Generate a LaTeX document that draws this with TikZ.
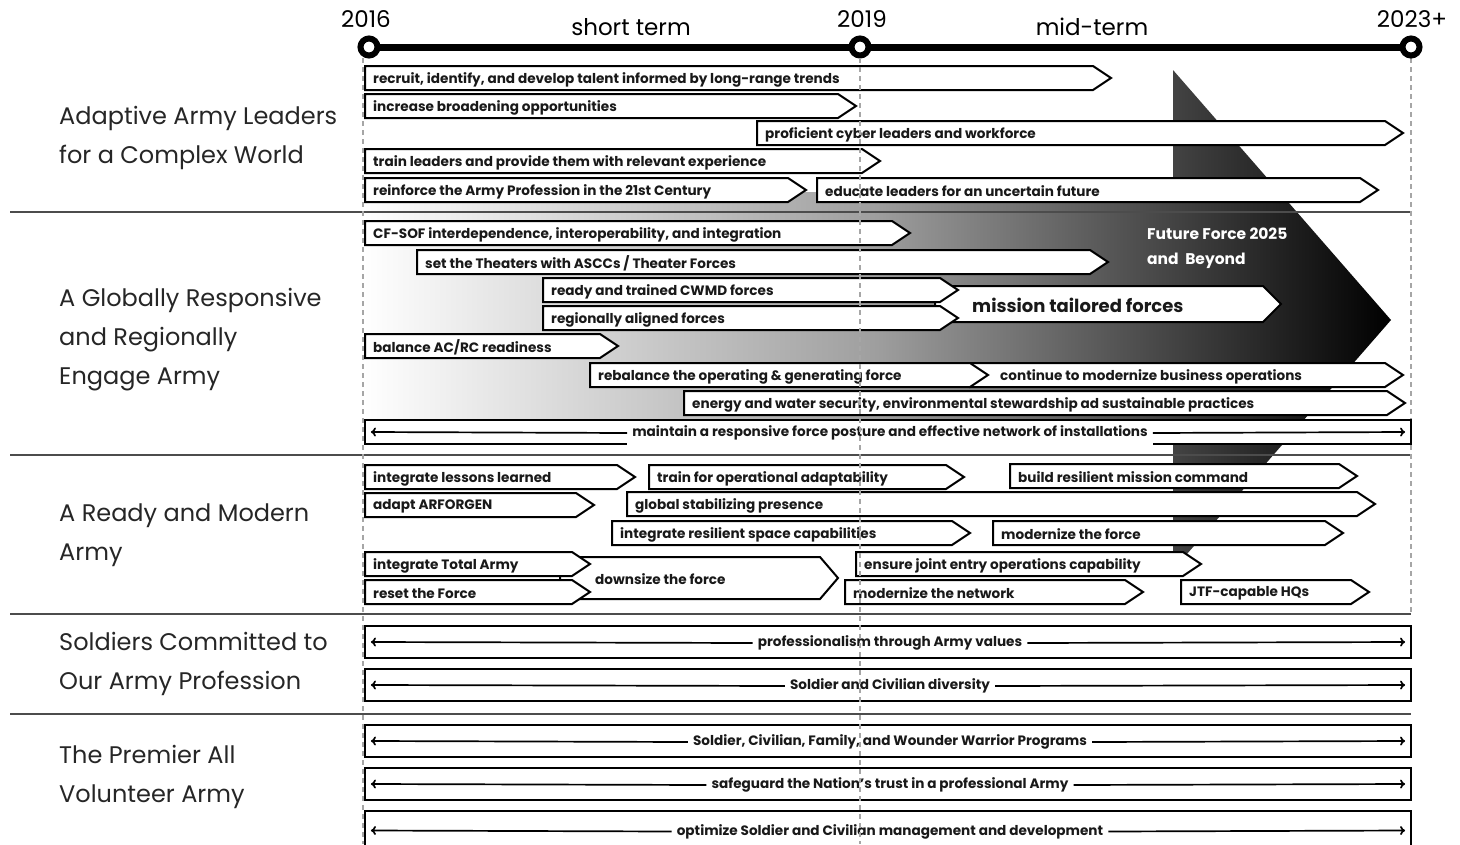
\documentclass[tikz,border=0pt]{standalone}
\usepackage{fontspec}
\setmainfont{Poppins}
\usetikzlibrary{arrows.meta,calc}
\tikzset{
  chev/.style={draw=black, fill=white, line width=2pt, line join=miter},
  lbl/.style={anchor=west, inner sep=0pt, font=\bfseries\fontsize{13.6}{15}\selectfont, text=black!90},
  wide/.style={draw=black, fill=white, line width=2.2pt, minimum width=1046pt, inner sep=0pt},
  wlbl/.style={fill=white, inner sep=5pt, font=\bfseries\fontsize{13.6}{15}\selectfont, text=black!90},
  dblarr/.style={line width=1.7pt, -{To[length=5pt,width=9pt,line width=1.7pt]}},
  sep/.style={draw=black!70, line width=2.5pt},
  vdash/.style={draw=black!35, line width=1.3pt, dash pattern=on 5pt off 4pt},
  rowlbl/.style={anchor=west, align=left, inner sep=0pt, font=\fontsize{24}{39}\selectfont, text=black!85},
  yr/.style={font=\fontsize{23}{26}\selectfont, inner sep=0pt},
  tdot/.style={circle, draw=black, fill=white, line width=6pt, minimum size=17pt, inner sep=0pt},
}
\newcommand{\chvx}[7]{% hh, name, left, tip, y, textx, text
  \draw[chev] (#3,#5-#1) -- (#4-18,#5-#1) -- (#4,#5) -- (#4-18,#5+#1) -- (#3,#5+#1) -- cycle;
  \node[lbl] (#2) at (#6,#5+1.5) {#7};}
\newcommand{\chv}[5]{\chvx{12}{#1}{#2}{#3}{#4}{#2+8}{#5}}
\newcommand{\wbox}[4]{% name, top, bottom, text
  \node[wide, minimum height={#3-#2}] (#1) at (888,{(#2+#3)/2}) {};
  \node[wlbl] (#1t) at (890,{(#2+#3)/2+1}) {#4};
  \draw[dblarr] (#1t.west) -- ($(#1.west)+(7,0)$);
  \draw[dblarr] (#1t.east) -- ($(#1.east)+(-7,0)$);}
\begin{document}
\begin{tikzpicture}[x=1pt,y=-1pt]
\useasboundingbox (0,0) rectangle (1460,844);
\fill[white] (0,0) rectangle (1460,844);

% big gradient arrow
\shade[left color=white, right color=black, middle color=black!38]
  (363,192) -- (1173,192) -- (1173,70) -- (1391,320) -- (1173,570) -- (1173,444) -- (363,444) -- cycle;

% separators
\draw[sep] (10,212) -- (1411,212);
\draw[sep] (10,455) -- (1411,455);
\draw[sep] (10,614) -- (1411,614);
\draw[sep] (10,714) -- (1411,714);

% right guide line (behind the bars)
\draw[vdash] (1411,58) -- (1411,614);

% timeline
\coordinate (p1) at (369,47);
\coordinate (p2) at (860,47);
\coordinate (p3) at (1411,47);
\draw[line width=7pt] (p1) -- (p3);
\node[tdot] (c1) at (p1) {};
\node[tdot] (c2) at (p2) {};
\node[tdot] (c3) at (p3) {};
\node[yr] (y1) at (366,19) {2016};
\node[yr] (y2) at (862,19) {2019};
\node[yr] (y3) at (1412,19) {2023+};
\node[yr] (st) at (631,27) {short term};
\node[yr] (mt) at (1092,27) {mid-term};

% row labels
\node[rowlbl] (r1) at (59,137.5) {Adaptive Army Leaders\\for a Complex World};
\node[rowlbl] (r2) at (59,339.5) {A Globally Responsive\\and Regionally\\Engage Army};
\node[rowlbl] (r3) at (59,535.5) {A Ready and Modern\\Army};
\node[rowlbl] (r4) at (59,663.5) {Soldiers Committed to\\Our Army Profession};
\node[rowlbl] (r5) at (59,776.5) {The Premier All\\Volunteer Army};

% row 1
\chv{b1}{365}{1111}{78}{recruit, identify, and develop talent informed by long-range trends}
\chv{b2}{365}{856}{106}{increase broadening opportunities}
\chv{b3}{757}{1403}{133}{proficient cyber leaders and workforce}
\chv{b4}{365}{880}{161}{train leaders and provide them with relevant experience}
\chv{b6}{817}{1378}{190}{educate leaders for an uncertain future}
\chv{b5}{365}{806}{190}{reinforce the Army Profession in the 21st Century}

% row 2
\chv{b7}{365}{910}{233}{CF-SOF interdependence, interoperability, and integration}
\chv{b8}{417}{1108}{262}{set the Theaters with ASCCs / Theater Forces}
\chvx{18}{b11}{935}{1281}{304}{972}{\fontsize{18}{20}\selectfont mission tailored forces}
\chv{b9}{543}{958}{290}{ready and trained CWMD forces}
\chv{b10}{543}{958}{318}{regionally aligned forces}
\chv{b12}{365}{618}{346}{balance AC/RC readiness}
\chvx{12}{b14}{970}{1403}{375}{1000}{continue to modernize business operations}
\chv{b13}{590}{988}{375}{rebalance the operating \& generating force}
\chv{b15}{684}{1405}{403}{energy and water security, environmental stewardship ad sustainable practices}
\wbox{b16}{420}{444}{maintain a responsive force posture and effective network of installations}

% row 3
\chv{b17}{365}{635}{477}{integrate lessons learned}
\chv{b18}{649}{964}{477}{train for operational adaptability}
\chv{b19}{1010}{1357}{476}{build resilient mission command}
\chv{b20}{365}{594}{505}{adapt ARFORGEN}
\chv{b21}{627}{1375}{504}{global stabilizing presence}
\chv{b22}{612}{970}{533}{integrate resilient space capabilities}
\chv{b23}{993}{1343}{533}{modernize the force}
\chvx{21}{b26}{560}{838}{578}{595}{downsize the force}
\chv{b24}{365}{590}{564}{integrate Total Army}
\chv{b25}{365}{590}{592}{reset the Force}
\chv{b27}{856}{1201}{564}{ensure joint entry operations capability}
\chv{b28}{845}{1143}{592}{modernize the network}
\chv{b29}{1181}{1369}{592}{JTF-capable HQs}

% rows 4 and 5
\wbox{b30}{626}{658}{professionalism through Army values}
\wbox{b31}{669}{701}{Soldier and Civilian diversity}
\wbox{b32}{725}{757}{Soldier, Civilian, Family, and Wounder Warrior Programs}
\wbox{b33}{768}{800}{safeguard the Nation's trust in a professional Army}
\wbox{b34}{811}{850}{optimize Soldier and Civilian management and development}

% future force label
\node[anchor=west, align=left, inner sep=0pt, text=white, font=\bfseries\fontsize{15.5}{25}\selectfont] (ff) at (1147,248) {Future Force 2025\\and\ \ Beyond};

% dashed guide lines
\draw[vdash] (363,58) -- (363,844);
\draw[vdash] (860,58) -- (860,844);
\end{tikzpicture}
\end{document}
